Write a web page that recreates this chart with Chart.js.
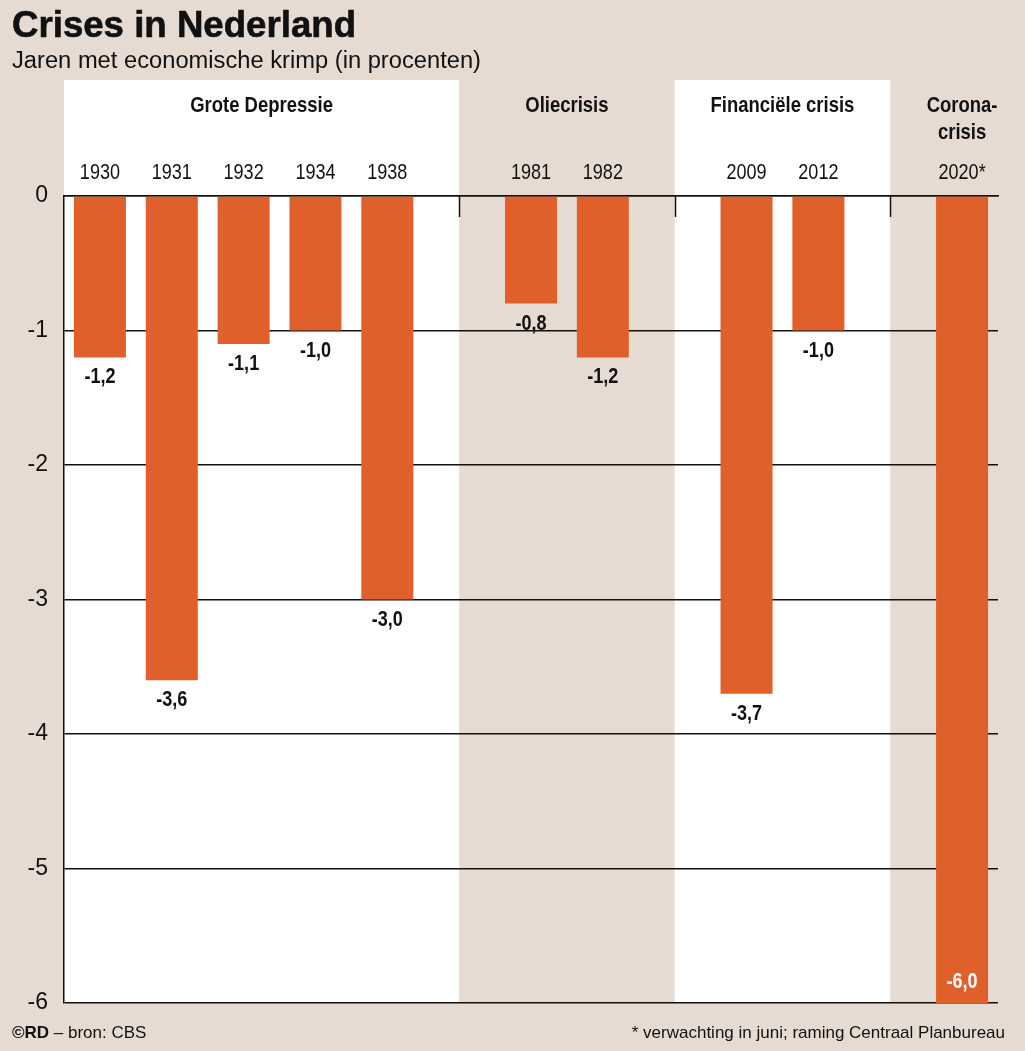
<!DOCTYPE html>
<html>
<head>
<meta charset="utf-8">
<script src="https://cdn.jsdelivr.net/npm/chart.js@4/dist/chart.umd.min.js"></script>
<style>
  body { margin: 0; background: #e6dbd2; }
  #wrap { width: 1025px; height: 1051px; position: relative; }
</style>
</head>
<body>
<div id="wrap"><canvas id="grafico"></canvas></div>
<script>
// jaren (lege plekken = ruimte tussen de crises)
const jaren = ['1930', '1931', '1932', '1934', '1938', '', '1981', '1982', '', '2009', '2012', '', '2020*'];
const krimp = [-1.2, -3.6, -1.1, -1.0, -3.0, null, -0.8, -1.2, null, -3.7, -1.0, null, -6.0];
const crisisNamen = [['Grote Depressie'], ['Oliecrisis'], ['Financiële crisis'], ['Corona-', 'crisis']];
const yTicks = [0, -1, -2, -3, -4, -5, -6];

const BEIGE = '#e6dbd2';
const ORANJE = '#e0602b';
const SANS = '"Liberation Sans", Arial, sans-serif';

// smalle tekst: horizontaal samengedrukt
function smal(ctx, tekst, x, y, sx) {
    ctx.save();
    ctx.translate(x, y);
    ctx.scale(sx, 1);
    ctx.fillText(tekst, 0, 0);
    ctx.restore();
}

// tekst op een vaste breedte
function passend(ctx, tekst, x, y, breedte) {
    const w = ctx.measureText(tekst).width;
    smal(ctx, tekst, x, y, breedte / w);
}

const achtergrond = {
    id: 'achtergrond',
    beforeDraw(chart) {
        const ctx = chart.ctx;
        const x = chart.scales.x;
        const area = chart.chartArea;
        ctx.save();
        ctx.fillStyle = BEIGE;
        ctx.fillRect(0, 0, chart.width, chart.height);
        // witte vlakken
        ctx.fillStyle = '#ffffff';
        ctx.fillRect(area.left, 80, x.getPixelForValue(5) - area.left, area.bottom - 80);
        ctx.fillRect(x.getPixelForValue(8), 80, x.getPixelForValue(11) - x.getPixelForValue(8), area.bottom - 80);

        // titel
        ctx.fillStyle = '#111';
        ctx.strokeStyle = '#111';
        ctx.textBaseline = 'alphabetic';
        ctx.textAlign = 'left';
        ctx.font = 'bold 36px ' + SANS;
        passend(ctx, 'Crises in Nederland', 12, 37, 344);
        ctx.save();
        ctx.lineWidth = 0.6;
        ctx.translate(12, 37);
        ctx.scale(344 / ctx.measureText('Crises in Nederland').width, 1);
        ctx.strokeText('Crises in Nederland', 0, 0);
        ctx.restore();
        ctx.font = '23px ' + SANS;
        passend(ctx, 'Jaren met economische krimp (in procenten)', 12, 68, 469);

        // crisisnamen
        const midden = [
            (area.left + x.getPixelForValue(5)) / 2,
            (x.getPixelForValue(5) + x.getPixelForValue(8)) / 2,
            (x.getPixelForValue(8) + x.getPixelForValue(11)) / 2,
            x.getPixelForValue(12)
        ];
        ctx.font = 'bold 22px ' + SANS;
        ctx.textAlign = 'center';
        ctx.textBaseline = 'middle';
        crisisNamen.forEach((regels, i) => {
            regels.forEach((r, j) => smal(ctx, r, midden[i], 106 + j * 27, 0.84));
        });

        // jaartallen boven de nullijn
        ctx.font = '22px ' + SANS;
        jaren.forEach((j, i) => {
            if (j) smal(ctx, j, x.getPixelForValue(i), 173, 0.82);
        });

        // voetregels
        ctx.textBaseline = 'alphabetic';
        ctx.textAlign = 'left';
        ctx.font = 'bold 17px ' + SANS;
        ctx.fillText('©RD', 12, 1038);
        const w = ctx.measureText('©RD').width;
        ctx.font = '17px ' + SANS;
        ctx.fillText(' – bron: CBS', 12 + w, 1038);
        ctx.textAlign = 'right';
        ctx.fillText('* verwachting in juni; raming Centraal Planbureau', 1005, 1038);
        ctx.restore();
    },
    afterDatasetsDraw(chart) {
        const ctx = chart.ctx;
        const meta = chart.getDatasetMeta(0);
        ctx.save();
        ctx.font = 'bold 22px ' + SANS;
        ctx.textAlign = 'center';
        ctx.textBaseline = 'middle';
        meta.data.forEach((bar, i) => {
            const v = krimp[i];
            if (v === null) return;
            const tekst = v.toFixed(1).replace('.', ',');
            if (v <= -5.5) {
                ctx.fillStyle = '#ffffff';
                smal(ctx, tekst, bar.x, bar.y - 21, 0.82);
            } else {
                ctx.fillStyle = '#111';
                smal(ctx, tekst, bar.x, bar.y + 20, 0.82);
            }
        });
        ctx.restore();
    },
    afterDraw(chart) {
        // scheidingsstreepjes onder de nullijn
        const ctx = chart.ctx;
        const x = chart.scales.x;
        const top = chart.chartArea.top;
        ctx.save();
        ctx.strokeStyle = '#111';
        ctx.lineWidth = 1.5;
        [5, 8, 11].forEach(i => {
            const px = Math.round(x.getPixelForValue(i)) + 0.5;
            ctx.beginPath();
            ctx.moveTo(px, top);
            ctx.lineTo(px, top + 21);
            ctx.stroke();
        });
        ctx.restore();
    }
};

const ctx = document.getElementById('grafico').getContext('2d');
new Chart(ctx, {
    type: 'bar',
    data: {
        labels: jaren,
        datasets: [{
            data: krimp,
            backgroundColor: ORANJE,
            borderWidth: 0,
            categoryPercentage: 1,
            barPercentage: 0.724
        }]
    },
    options: {
        responsive: true,
        maintainAspectRatio: false,
        animation: false,
        layout: { padding: { left: 0, right: 27, top: 0, bottom: 48 } },
        plugins: {
            legend: { display: false },
            tooltip: { enabled: false }
        },
        scales: {
            x: {
                position: 'top',
                grid: { display: false, drawTicks: false },
                border: { display: true, color: '#111', width: 1.5 },
                ticks: { display: false },
                afterFit(scale) { scale.height = 196; }
            },
            y: {
                min: -6,
                max: 0,
                afterBuildTicks(scale) { scale.ticks = yTicks.map(v => ({ value: v })); },
                grid: { color: '#111', lineWidth: 1.5, drawTicks: false },
                border: { display: true, color: '#111', width: 1.5 },
                ticks: {
                    color: '#111',
                    font: { family: SANS, size: 23 },
                    padding: 16,
                    callback: v => String(v)
                },
                afterFit(scale) { scale.width = 64; }
            }
        }
    },
    plugins: [achtergrond]
});
</script>
</body>
</html>
